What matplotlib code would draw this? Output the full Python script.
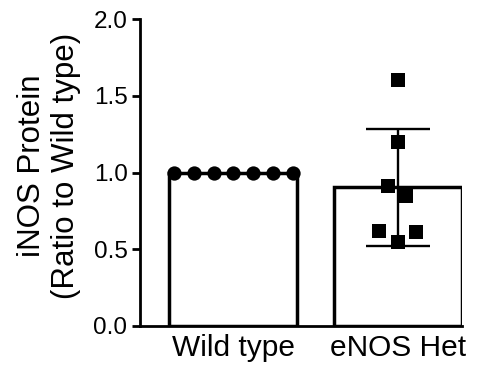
import matplotlib
matplotlib.use("Agg")
import matplotlib.pyplot as plt
import numpy as np

plt.rcParams['font.family'] = ['Liberation Sans', 'DejaVu Sans']

categories = ["Wild type", "eNOS Het"]
wild_type = [1.0, 1.0, 1.0, 1.0, 1.0, 1.0, 1.0]
wild_type_x = [-0.36, -0.24, -0.12, 0.0, 0.12, 0.24, 0.36]
enos_het = [1.60, 1.197, 0.914, 0.847, 0.619, 0.610, 0.545]
enos_het_x = [0.0, 0.0, -0.058, 0.052, -0.112, 0.112, 0.0]
y_ticks = [0.0, 0.5, 1.0, 1.5, 2.0]

fig = plt.figure(figsize=(4.84, 3.68), dpi=100)
ax = fig.add_axes([140/484, 1 - 326/368, (462 - 140)/484, (326 - 19)/368])

groups = [wild_type, enos_het]
means = [np.mean(g) for g in groups]
sds = [np.std(g, ddof=1) for g in groups]
pos = np.arange(len(categories))

ax.bar(pos, means, width=0.78, color='white', edgecolor='black', linewidth=2.5, zorder=1)
ax.errorbar(pos[1], means[1], yerr=sds[1], fmt='none', ecolor='black',
            elinewidth=1.7, capsize=23, capthick=1.7, zorder=3)
ax.scatter(pos[0] + np.array(wild_type_x), wild_type, marker='o', s=10.3**2,
           color='black', zorder=4, linewidths=0)
ax.scatter(pos[1] + np.array(enos_het_x), enos_het, marker='s', s=9.6**2,
           color='black', zorder=4, linewidths=0)

ax.set_xlim(pos[0] - 0.567, pos[1] + 0.39)
ax.set_ylim(0, 2.0)
ax.set_yticks(y_ticks)
ax.set_yticklabels([f"{t:.1f}" for t in y_ticks], fontsize=17.5)
ax.set_xticks(pos)
ax.set_xticklabels(categories, fontsize=21.5)
ax.tick_params(axis='x', length=0, pad=6)
ax.tick_params(axis='y', length=6, width=2.0, pad=3)
for s in ['top', 'right']:
    ax.spines[s].set_visible(False)
for s in ['left', 'bottom']:
    ax.spines[s].set_linewidth(2.0)

fig.text(49/484, 1 - 166/368, "iNOS Protein\n(Ratio to Wild type)", rotation=90,
         ha='center', va='center', fontsize=22.5, linespacing=1.2)

fig.savefig("out.png", dpi=100)
